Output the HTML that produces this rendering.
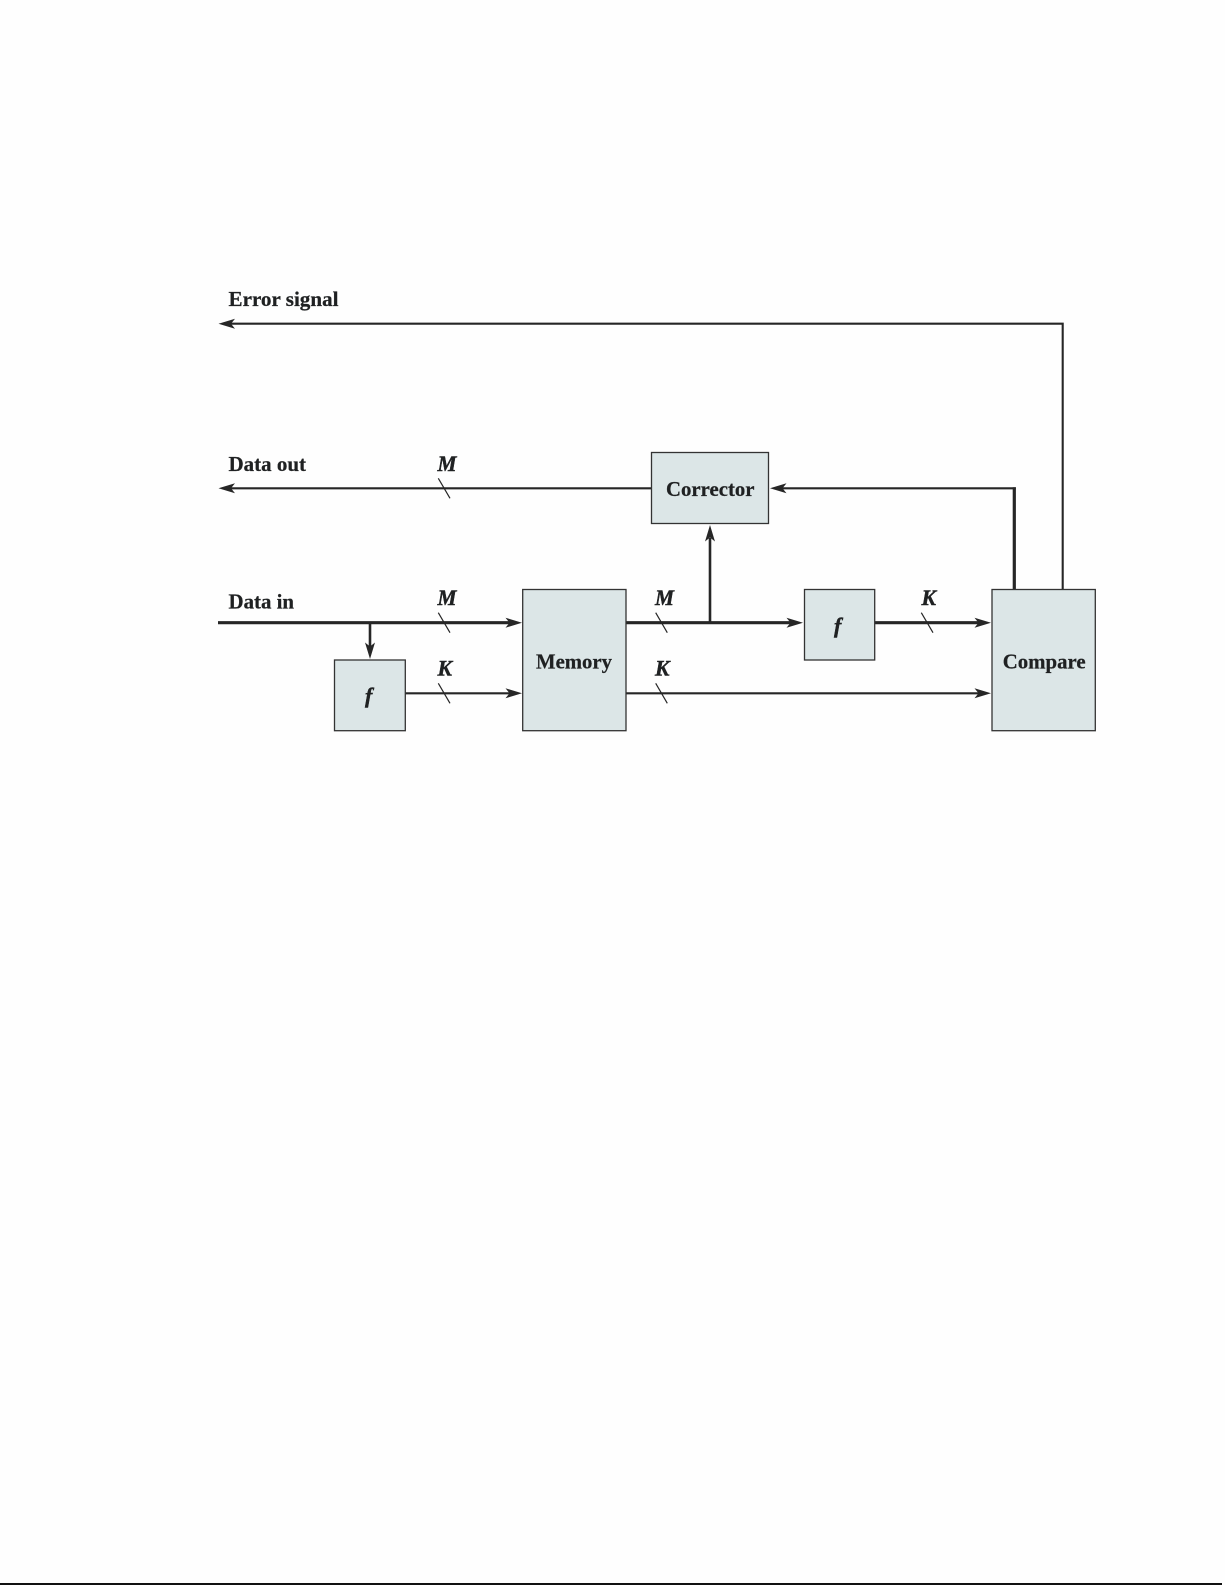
<!DOCTYPE html>
<html>
<head>
<meta charset="utf-8">
<style>
html,body{margin:0;padding:0;background:#fefefe;width:1225px;height:1585px;overflow:hidden}
svg{display:block}
text{font-family:"Liberation Serif",serif;font-weight:bold;fill:#1f2122;stroke:#1f2122;stroke-width:.25}
.l{font-size:21px}
.i{font-size:22px;font-style:italic;stroke-width:.45}
.b{fill:#dce6e7;stroke:#333;stroke-width:1.3}
.t{fill:none;stroke:#262626;stroke-width:2.1}
.h{fill:none;stroke:#262626;stroke-width:3.2}
.s{stroke:#262626;stroke-width:1.2;fill:none}
.a{fill:#262626;stroke:none}
</style>
</head>
<body>
<svg width="1225" height="1585" viewBox="0 0 1225 1585" xmlns="http://www.w3.org/2000/svg">
<rect width="1225" height="1585" fill="#fefefe"/>

<!-- connectors -->
<path class="t" d="M1062.7 589.5V323.7H228"/>
<path class="t" d="M651.5 488.3H228"/>
<path class="t" d="M1015.8 488.3H782"/>
<path class="h" d="M1014.3 589.5V487.2"/>
<path class="h" d="M218 622.7H512"/>
<path class="h" d="M370 622.7V650" style="stroke-width:2.6"/>
<path class="t" d="M405.5 693.3H512"/>
<path class="h" d="M626 622.7H792"/>
<path class="h" d="M710 622.7V538" style="stroke-width:2.6"/>
<path class="h" d="M874.5 622.7H980"/>
<path class="t" d="M626 693.3H980"/>

<!-- arrowheads -->
<polygon class="a" points="218.5,323.7 235,318.7 231,323.7 235,328.7"/>
<polygon class="a" points="218.5,488.3 235,483.3 231,488.3 235,493.3"/>
<polygon class="a" points="770,488.3 786.5,483.3 782.5,488.3 786.5,493.3"/>
<polygon class="a" points="522,622.7 505.5,617.7 509.5,622.7 505.5,627.7"/>
<polygon class="a" points="522,693.3 505.5,688.3 509.5,693.3 505.5,698.3"/>
<polygon class="a" points="370,659 365,642.5 370,646.5 375,642.5"/>
<polygon class="a" points="710,525 705,541.5 710,537.5 715,541.5"/>
<polygon class="a" points="803,622.7 786.5,617.7 790.5,622.7 786.5,627.7"/>
<polygon class="a" points="991,622.7 974.5,617.7 978.5,622.7 974.5,627.7"/>
<polygon class="a" points="991,693.3 974.5,688.3 978.5,693.3 974.5,698.3"/>

<!-- bus slashes -->
<path class="s" d="M438.3 478.3L450 498.3"/>
<path class="s" d="M438.3 612.7L450 632.7"/>
<path class="s" d="M438.3 683.3L450 703.3"/>
<path class="s" d="M655.7 612.7L667.3 632.7"/>
<path class="s" d="M655.7 683.3L667.3 703.3"/>
<path class="s" d="M921.3 612.7L933 632.7"/>

<!-- boxes -->
<rect class="b" x="651.5" y="452.5" width="117" height="71"/>
<rect class="b" x="522.7" y="589.5" width="103.3" height="141.2"/>
<rect class="b" x="334.5" y="660" width="70.8" height="70.7"/>
<rect class="b" x="804.5" y="589.5" width="70.2" height="70.5"/>
<rect class="b" x="992" y="589.5" width="103.3" height="141.2"/>

<!-- labels -->
<text class="l" x="228.5" y="306" textLength="110" lengthAdjust="spacingAndGlyphs">Error signal</text>
<text class="l" x="228.5" y="471" textLength="77.5" lengthAdjust="spacingAndGlyphs">Data out</text>
<text class="l" x="228.5" y="608.7" textLength="65.5" lengthAdjust="spacingAndGlyphs">Data in</text>
<text class="l" x="536" y="668.3" textLength="76" lengthAdjust="spacingAndGlyphs">Memory</text>
<text class="l" x="666" y="496" textLength="88.5" lengthAdjust="spacingAndGlyphs">Corrector</text>
<text class="l" x="1002.7" y="668.3" textLength="83" lengthAdjust="spacingAndGlyphs">Compare</text>

<text class="i" x="437.5" y="471" textLength="19" lengthAdjust="spacingAndGlyphs">M</text>
<text class="i" x="437.5" y="605" textLength="19" lengthAdjust="spacingAndGlyphs">M</text>
<text class="i" x="437.5" y="675.7" textLength="14.5" lengthAdjust="spacingAndGlyphs">K</text>
<text class="i" x="655" y="605" textLength="19" lengthAdjust="spacingAndGlyphs">M</text>
<text class="i" x="655" y="675.7" textLength="14.5" lengthAdjust="spacingAndGlyphs">K</text>
<text class="i" x="921.5" y="605" textLength="14.5" lengthAdjust="spacingAndGlyphs">K</text>
<text class="i" x="365" y="703">f</text>
<text class="i" x="834" y="633">f</text>

<!-- bottom rule -->
<rect x="0" y="1583" width="1222" height="2" fill="#111"/>
</svg>
</body>
</html>
